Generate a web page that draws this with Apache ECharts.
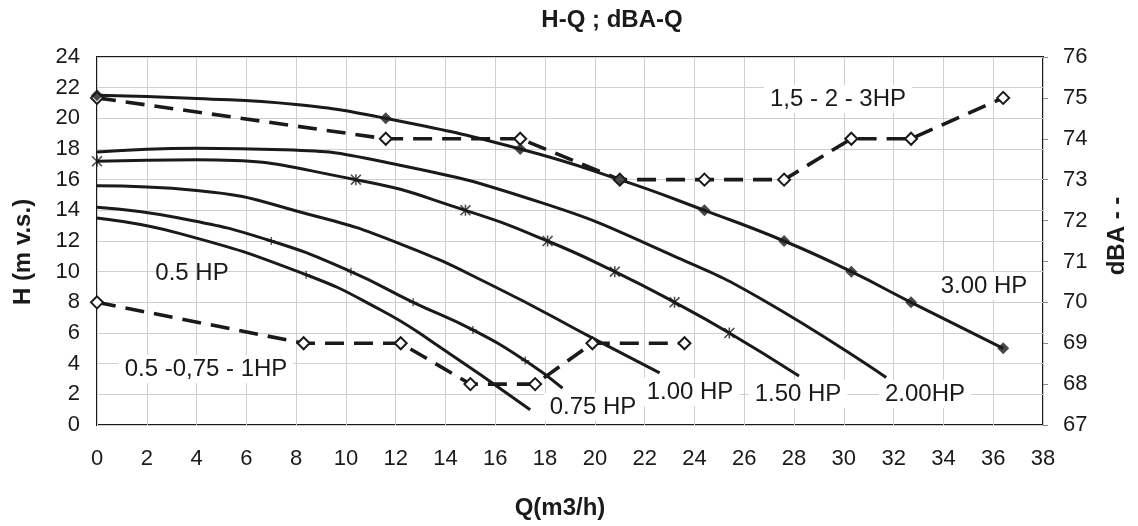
<!DOCTYPE html>
<head>
    <meta charset="utf-8">
    <title>H-Q ; dBA-Q</title>
    <style>body{margin:0;background:#fff;}</style>
</head>
<body>
    <div id="main" style="width:1138px;height:526px"></div>
    <script src="https://cdn.jsdelivr.net/npm/echarts/dist/echarts.min.js"></script>
    <script type="text/javascript">

    // pump curves H(Q)
    var q300 = [0, 4, 8, 11.6, 17, 21, 24.4, 27.6, 30.3, 32.7, 36.4];
    var h300 = [21.5, 21.3, 20.9, 20, 18, 16, 14, 12, 10, 8, 5];
    var q200 = [0, 4, 7.5, 11.4, 17.85, 23.2, 26.7, 31.7];
    var h200 = [17.8, 18.05, 17.95, 17.2, 14.5, 11, 8.2, 3.1];
    var q150 = [0, 4, 10.4, 14.8, 18.1, 20.8, 23.2, 25.4, 28.2];
    var h150 = [17.2, 17.3, 16, 14, 12, 10, 8, 6, 3.2];
    var q100 = [0, 4, 8.6, 12.2, 16, 20.1, 22.6];
    var h100 = [15.6, 15.3, 13.7, 11.8, 9, 5.5, 3.4];
    var q075 = [0, 3.3, 7, 10.2, 12.7, 15.1, 17.2, 18.7];
    var h075 = [14.2, 13.5, 12, 10, 8, 6.2, 4.2, 2.4];
    var q050 = [0, 3.3, 8.4, 11.4, 13.4, 17.4];
    var h050 = [13.5, 12.5, 9.8, 7.5, 5.5, 1.0];

    // marked points on the curves
    var mq300 = [0, 11.6, 17, 21, 24.4, 27.6, 30.3, 32.7, 36.4];
    var mh300 = [21.5, 20, 18, 16, 14, 12, 10, 8, 5];
    var mq150 = [0, 10.4, 14.8, 18.1, 20.8, 23.2, 25.4];
    var mh150 = [17.2, 16, 14, 12, 10, 8, 6];
    var mq075 = [7, 10.2, 12.7, 15.1, 17.2];
    var mh075 = [12, 10, 8, 6.2, 4.2];
    var mq050 = [8.4];
    var mh050 = [9.8];

    // noise dBA(Q)
    var qdbBig = [0, 11.6, 17, 21, 24.4, 27.6, 30.3, 32.7, 36.4];
    var dbBig = [75, 74, 74, 73, 73, 73, 74, 74, 75];
    var qdbSmall = [0, 8.3, 12.2, 15, 17.6, 19.9, 23.6];
    var dbSmall = [70, 69, 69, 68, 68, 69, 69];

    function pairs(q, v) {
        return q.map(function (x, i) { return [x, v[i]]; });
    }

    var asterisk = 'path://M0,1L1,0L10,9L9,10Z M9,0L10,1L1,10L0,9Z M4.3,0L5.7,0L5.7,10L4.3,10Z';
    var plus = 'path://M4.2,0L5.8,0L5.8,10L4.2,10Z M0,4.2L10,4.2L10,5.8L0,5.8Z';

    var ink = '#1a1a1a';
    var labelFont = '24px "Liberation Sans", Arial, sans-serif';
    var titleFont = 'bold 24px "Liberation Sans", Arial, sans-serif';

    function curve(q, h) {
        return {
            type: 'line', data: pairs(q, h), smooth: true,
            showSymbol: false, silent: true,
            lineStyle: { color: ink, width: 3 }, z: 3
        };
    }
    function marks(q, h, symbol, size) {
        return {
            type: 'scatter', data: pairs(q, h), symbol: symbol, symbolSize: size,
            itemStyle: { color: ink }, silent: true, z: 5
        };
    }
    function noise(q, v) {
        return {
            type: 'line', yAxisIndex: 1, data: pairs(q, v), symbol: 'emptyDiamond', symbolSize: 12,
            showAllSymbol: true, silent: true,
            itemStyle: { color: ink, borderColor: ink, borderWidth: 1.5 },
            lineStyle: { color: ink, width: 3.6, type: [19, 10] }, z: 4
        };
    }
    function label(text, x, y, bg) {
        return {
            type: 'text', z: 10, x: x, y: y,
            style: {
                text: text, font: labelFont, fill: ink, align: 'center', verticalAlign: 'middle',
                backgroundColor: bg ? '#fff' : null, padding: bg ? [2, 6] : 0
            }
        };
    }

    var myChart = echarts.init(document.getElementById('main'));

    var option = {
        animation: false,
        backgroundColor: '#fff',
        grid: { left: 97, right: 95, top: 57, bottom: 101, show: true, borderColor: ink, borderWidth: 2 },
        xAxis: {
            type: 'value', min: 0, max: 38, interval: 2,
            axisLine: { show: false }, axisTick: { show: false },
            axisLabel: { color: ink, fontSize: 22, margin: 23, fontFamily: 'Liberation Sans' },
            splitLine: { lineStyle: { color: '#cfcfcf', width: 1 } }
        },
        yAxis: [{
            type: 'value', min: 0, max: 24, interval: 2,
            axisLine: { show: false }, axisTick: { show: false },
            axisLabel: { color: ink, fontSize: 22, margin: 17, fontFamily: 'Liberation Sans' },
            splitLine: { lineStyle: { color: '#cfcfcf', width: 1 } }
        }, {
            type: 'value', min: 67, max: 76, interval: 1, position: 'right',
            axisLine: { show: false },
            axisTick: { show: true, length: 5, inside: false, lineStyle: { color: '#888' } },
            axisLabel: { color: ink, fontSize: 22, margin: 20, fontFamily: 'Liberation Sans' },
            splitLine: { show: false }
        }],
        series: [
            curve(q300, h300), curve(q200, h200), curve(q150, h150),
            curve(q100, h100), curve(q075, h075), curve(q050, h050),
            noise(qdbBig, dbBig), noise(qdbSmall, dbSmall),
            marks(mq300, mh300, 'diamond', 12),
            marks(mq150, mh150, asterisk, 11),
            marks(mq075, mh075, plus, 8),
            marks(mq050, mh050, plus, 8)
        ],
        graphic: [
            { type: 'text', x: 612, y: 20, style: { text: 'H-Q ; dBA-Q', font: titleFont, fill: ink, align: 'center', verticalAlign: 'middle' } },
            { type: 'text', x: 560, y: 508, style: { text: 'Q(m3/h)', font: titleFont, fill: ink, align: 'center', verticalAlign: 'middle' } },
            { type: 'text', x: 23, y: 252, rotation: Math.PI / 2, style: { text: 'H (m v.s.)', font: titleFont, fill: ink, align: 'center', verticalAlign: 'middle' } },
            { type: 'text', x: 1117, y: 236, rotation: Math.PI / 2, style: { text: 'dBA - -', font: titleFont, fill: ink, align: 'center', verticalAlign: 'middle' } },
            label('1,5 - 2 - 3HP', 838, 99, true),
            label('3.00 HP', 984, 286, true),
            label('2.00HP', 925, 394, true),
            label('1.50 HP', 798, 394, true),
            label('1.00 HP', 690, 392, true),
            label('0.75 HP', 593, 407, true),
            label('0.5 HP', 192, 273, false),
            label('0.5 -0,75 - 1HP', 206, 369, true)
        ]
    };

    myChart.setOption(option);

    </script>
</body>
